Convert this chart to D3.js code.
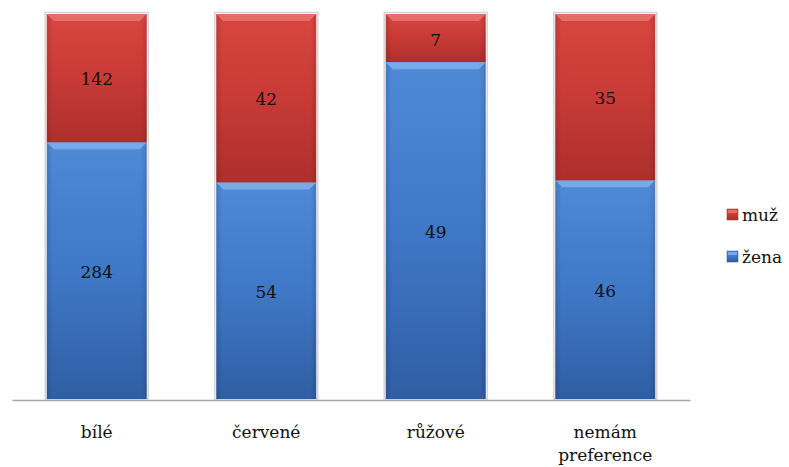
<!DOCTYPE html>
<html><head><meta charset="utf-8">
<script src="https://cdn.jsdelivr.net/npm/d3@7"></script>
<style>body{margin:0;background:#fff}svg{display:block}</style>
</head><body>
<svg id="chart" width="789" height="467"></svg>
<script>
// Colour preference by gender, shown as 100 % stacked columns
const categories = ["bílé", "červené", "růžové", "nemám preference"];
const zena = [284, 54, 49, 46];
const muz = [142, 42, 7, 35];
const seriesNames = ["žena", "muž"];

const W = 789, H = 467;
const svg = d3.select("#chart");
const font = "'DejaVu Serif', serif";
const plot = {left: 12, right: 690, top: 14, bottom: 399};

const x = d3.scaleBand().domain(categories).range([plot.left, plot.right]).paddingInner(0.41).paddingOuter(0.205);
const y = d3.scaleLinear().domain([0, 1]).range([plot.bottom, plot.top]);

const colors = {
  "žena": {top: "#4f8ad6", mid: "#3f78c6", bot: "#2f5ea4", bevel: "#77aaea", edge: "#2a5798"},
  "muž": {top: "#d8463f", mid: "#c83a36", bot: "#ad2f2c", bevel: "#e56c68", edge: "#a02a27"}
};

const defs = svg.append("defs");
seriesNames.forEach((s, i) => {
  const g = defs.append("linearGradient").attr("id", "g" + i).attr("x1", 0).attr("x2", 0).attr("y1", 0).attr("y2", 1);
  g.append("stop").attr("offset", "0%").attr("stop-color", colors[s].top);
  g.append("stop").attr("offset", "50%").attr("stop-color", colors[s].mid);
  g.append("stop").attr("offset", "100%").attr("stop-color", colors[s].bot);
  const h = defs.append("linearGradient").attr("id", "h" + i).attr("x1", 0).attr("x2", 1).attr("y1", 0).attr("y2", 0);
  h.append("stop").attr("offset", "0%").attr("stop-color", "#000").attr("stop-opacity", 0.12);
  h.append("stop").attr("offset", "6%").attr("stop-color", "#000").attr("stop-opacity", 0);
  h.append("stop").attr("offset", "94%").attr("stop-color", "#000").attr("stop-opacity", 0);
  h.append("stop").attr("offset", "100%").attr("stop-color", "#000").attr("stop-opacity", 0.12);
});

const rows = categories.map((c, i) => ({cat: c, "žena": zena[i], "muž": muz[i]}));
const stacked = d3.stack().keys(seriesNames).offset(d3.stackOffsetExpand)(rows);

// bar shadow outline
svg.append("g").selectAll("rect").data(rows).join("rect")
  .attr("x", d => x(d.cat) - 1.5).attr("y", y(1) - 1.5)
  .attr("width", x.bandwidth() + 3).attr("height", y(0) - y(1) + 1.5)
  .attr("fill", "none").attr("stroke", "#d4d4d4").attr("stroke-width", 1.5);

stacked.forEach((layer, si) => {
  const s = layer.key;
  const g = svg.append("g");
  layer.forEach((d, i) => {
    const x0 = x(categories[i]), bw = x.bandwidth();
    const y0 = y(d[1]), y1 = y(d[0]);
    const h = y1 - y0;
    g.append("rect").attr("x", x0).attr("y", y0).attr("width", bw).attr("height", h).attr("fill", `url(#g${si})`);
    g.append("rect").attr("x", x0).attr("y", y0).attr("width", bw).attr("height", h).attr("fill", `url(#h${si})`);
    // bevelled top edge
    const b = 7;
    g.append("path")
      .attr("d", `M${x0},${y0}L${x0 + bw},${y0}L${x0 + bw - b},${y0 + b}L${x0 + b},${y0 + b}Z`)
      .attr("fill", colors[s].bevel);
    g.append("line").attr("x1", x0).attr("x2", x0 + bw).attr("y1", y0 + 0.5).attr("y2", y0 + 0.5)
      .attr("stroke", colors[s].bevel).attr("stroke-width", 1);
    // value label
    const v = d.data[s];
    g.append("text").attr("x", x0 + bw / 2).attr("y", (y0 + y1) / 2 + (si === 1 && h < 50 ? 2 : 1))
      .attr("text-anchor", "middle").attr("dominant-baseline", "central")
      .attr("font-family", font).attr("font-size", 17).attr("fill", "#111").text(v);
  });
});

// category axis
const axis = svg.append("g").attr("transform", `translate(0,${plot.bottom + 1})`)
  .call(d3.axisBottom(x).tickSize(0).tickFormat(""));
axis.select(".domain").attr("stroke", "#a6a6a6").attr("stroke-width", 1.5);

categories.forEach(c => {
  const words = c === "nemám preference" ? ["nemám", "preference"] : [c];
  const t = svg.append("text").attr("x", x(c) + x.bandwidth() / 2).attr("y", 438)
    .attr("text-anchor", "middle").attr("font-family", font).attr("font-size", 17).attr("fill", "#111");
  words.forEach((w, k) => t.append("tspan").attr("x", x(c) + x.bandwidth() / 2).attr("dy", k ? 23 : 0).text(w));
});

// legend (muž above žena)
const legend = svg.append("g");
["muž", "žena"].forEach((s, k) => {
  const si = seriesNames.indexOf(s);
  const ly = 215 + k * 42;
  legend.append("rect").attr("x", 727).attr("y", ly - 6).attr("width", 11).attr("height", 11)
    .attr("fill", `url(#g${si})`).attr("stroke", colors[s].edge).attr("stroke-width", 0.5);
  legend.append("rect").attr("x", 728).attr("y", ly - 5).attr("width", 9).attr("height", 3).attr("fill", colors[s].bevel);
  legend.append("text").attr("x", 742).attr("y", ly).attr("dominant-baseline", "central")
    .attr("font-family", font).attr("font-size", 17).attr("fill", "#111").text(s);
});
</script>
</body></html>
